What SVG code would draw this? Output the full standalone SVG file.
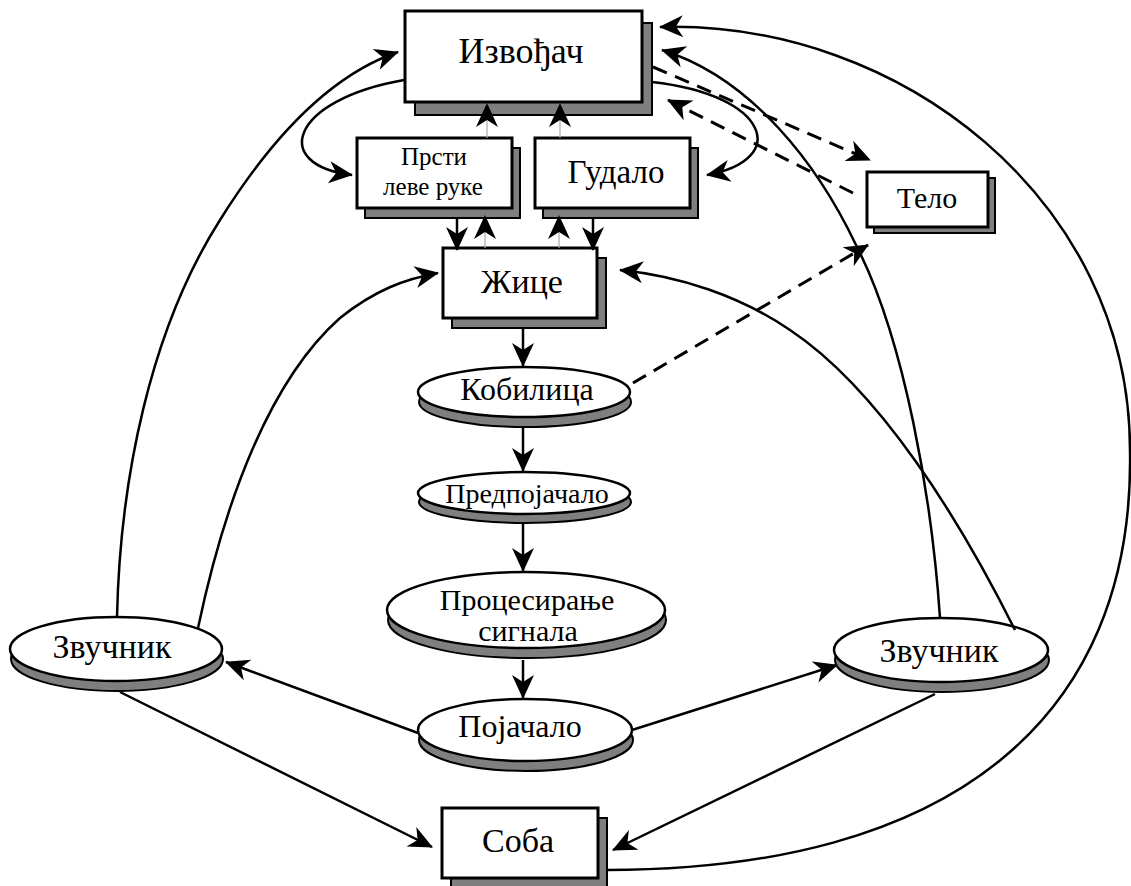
<svg xmlns="http://www.w3.org/2000/svg" width="1131" height="886" viewBox="0 0 1131 886">
<defs>
<style>
.box{fill:#fff;stroke:#000;stroke-width:3}
.sh{fill:#7f7f7f;stroke:#000;stroke-width:2}
.el{fill:#fff;stroke:#000;stroke-width:2.5}
text{font-family:'Liberation Serif','Times New Roman','DejaVu Serif','Noto Serif',serif;text-anchor:middle;fill:#000}
.c{fill:none;stroke:#000;stroke-width:2.5;marker-end:url(#ah)}
.d{fill:none;stroke:#000;stroke-width:3;stroke-dasharray:15 9;marker-end:url(#ah)}
.g{fill:none;stroke:#aaa;stroke-width:1.2;marker-end:url(#ah)}
</style>
<marker id="ah" viewBox="-26 -13 28 26" refX="0" refY="0" markerWidth="28" markerHeight="26" markerUnits="userSpaceOnUse" orient="auto"><path d="M1,0 L-23,-11 L-16,0 L-23,11 Z" fill="#000"/></marker>
</defs>

<g id="izvodjac">
<rect class="sh" x="415" y="23" width="237" height="92"/>
<rect class="box" x="405" y="11" width="237" height="91"/>
<text x="521" y="63" font-size="36" font-family="Liberation Serif, serif">Извођач</text>
</g>
<g id="prsti">
<rect class="sh" x="365" y="148" width="155" height="70"/>
<rect class="box" x="357" y="138" width="155" height="70"/>
<text x="434" y="165" font-size="25" font-family="Liberation Serif, serif">Прсти</text>
<text x="433" y="195" font-size="25" font-family="Liberation Serif, serif">леве руке</text>
</g>
<g id="gudalo">
<rect class="sh" x="543" y="148" width="155" height="70"/>
<rect class="box" x="535" y="138" width="155" height="70"/>
<text x="616" y="183" font-size="33" font-family="Liberation Serif, serif">Гудало</text>
</g>
<g id="zice">
<rect class="sh" x="452" y="258" width="154" height="70"/>
<rect class="box" x="443" y="248" width="154" height="70"/>
<text x="522" y="293" font-size="34" font-family="Liberation Serif, serif">Жице</text>
</g>
<g id="telo">
<rect class="sh" x="874" y="178" width="121" height="55"/>
<rect class="box" x="867" y="172" width="121" height="55"/>
<text x="927" y="208" font-size="30" font-family="Liberation Serif, serif">Тело</text>
</g>
<g id="kobilica">
<ellipse class="sh" cx="525" cy="402" rx="106" ry="25"/>
<ellipse class="el" cx="524" cy="392" rx="106" ry="25"/>
<text x="527" y="400" font-size="32" font-family="Liberation Serif, serif">Кобилица</text>
</g>
<g id="predpojacalo">
<ellipse class="sh" cx="525" cy="502" rx="106" ry="21"/>
<ellipse class="el" cx="524" cy="493" rx="106" ry="21"/>
<text x="527" y="503" font-size="28" font-family="Liberation Serif, serif">Предпојачало</text>
</g>
<g id="procesiranje">
<ellipse class="sh" cx="527" cy="620" rx="139" ry="38"/>
<ellipse class="el" cx="526" cy="610" rx="139" ry="38"/>
<text x="527" y="610" font-size="30" font-family="Liberation Serif, serif">Процесирање</text>
<text x="528" y="641" font-size="30" font-family="Liberation Serif, serif">сигнала</text>
</g>
<g id="pojacalo">
<ellipse class="sh" cx="526" cy="740" rx="107" ry="31"/>
<ellipse class="el" cx="525" cy="730" rx="107" ry="31"/>
<text x="520" y="737" font-size="32" font-family="Liberation Serif, serif">Појачало</text>
</g>
<g id="zvucnik-levi">
<ellipse class="sh" cx="117" cy="659" rx="106" ry="32"/>
<ellipse class="el" cx="116" cy="649" rx="106" ry="32"/>
<text x="112" y="658" font-size="34" font-family="Liberation Serif, serif">Звучник</text>
</g>
<g id="zvucnik-desni">
<ellipse class="sh" cx="942" cy="660" rx="107" ry="32"/>
<ellipse class="el" cx="941" cy="650" rx="107" ry="32"/>
<text x="939" y="662" font-size="34" font-family="Liberation Serif, serif">Звучник</text>
</g>
<g id="soba">
<rect class="sh" x="451" y="818" width="156" height="70"/>
<rect class="box" x="442" y="808" width="156" height="70"/>
<text x="518" y="852" font-size="34" font-family="Liberation Serif, serif">Соба</text>
</g>

<g id="connectors">
<path class="c" d="M117,617 C120,480 150,330 220,220 C270,140 330,75 398,52"/>
<path class="c" d="M198,628 C225,500 270,380 340,318 C375,290 405,279 438,273"/>
<path class="c" d="M404,80 C290,100 270,165 352,175"/>
<path class="c" d="M652,82 C770,95 790,160 707,175"/>
<path class="c" d="M940,618 C932,500 905,340 856,245 C818,165 752,78 662,50"/>
<path class="c" d="M1015,630 C960,520 880,390 790,330 C740,296 680,276 620,270"/>
<path class="c" d="M607,870 C950,870 1135,720 1130,450 C1130,200 900,20 660,27"/>
<path class="d" d="M653,67 L870,160"/>
<path class="d" d="M853,193 L668,100"/>
<path class="d" d="M633,383 L868,245"/>
<path class="c" d="M457,218 L457,250"/>
<path class="c" d="M593,218 L593,250"/>
<path class="g" d="M487,138 L487,104"/>
<path class="g" d="M560,138 L560,104"/>
<path class="g" d="M485,248 L485,216"/>
<path class="g" d="M559,248 L559,216"/>
<path class="c" d="M523,328 L523,366"/>
<path class="c" d="M523,428 L523,471"/>
<path class="c" d="M523,523 L523,571"/>
<path class="c" d="M523,660 L523,698"/>
<path class="c" d="M418,733 L226,662"/>
<path class="c" d="M632,730 L837,665"/>
<path class="c" d="M120,692 L432,847"/>
<path class="c" d="M935,694 L613,850"/>
</g>
</svg>
